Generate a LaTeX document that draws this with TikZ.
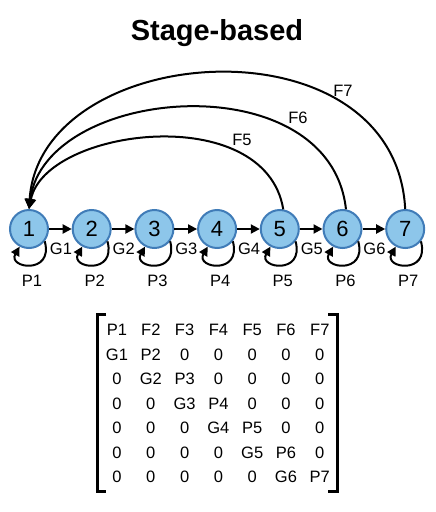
\documentclass[tikz,border=0pt]{standalone}
\usepackage{fontspec}
\setmainfont{Liberation Sans}
\usepackage{tikz,xcolor}
\usetikzlibrary{arrows.meta}

\definecolor{stagefill}{RGB}{141,198,234}
\definecolor{stageline}{RGB}{64,124,184}

\begin{document}
\begin{tikzpicture}[x=1pt,y=1pt,
  stage/.style={circle, draw=stageline, fill=stagefill, line width=2pt,
    minimum size=38pt, inner sep=0pt, font=\fontsize{22}{26}\selectfont},
  lbl/.style={font=\fontsize{16.5}{19}\selectfont, inner sep=0pt},
  link/.style={line width=2pt, -{Triangle[length=9pt,width=9pt]}},
  back/.style={line width=2pt, -{Triangle[length=10pt,width=10pt]}}]

\useasboundingbox (0,0) rectangle (436,-512);

\node[font=\bfseries\fontsize{29}{34}\selectfont] (title) at (217,-33) {Stage-based};

  % Draw the stages
  \foreach \i in {1,...,7} {
    \node[stage] (n\i) at ({29+62.7*(\i-1)},-229) {\i};
  }

  % Draw the growth arrows
  \foreach \i in {1,...,6} {
    \pgfmathtruncatemacro{\j}{\i+1}
    \draw[link] (n\i) -- (n\j);
    \node[lbl] (g\i) at ({61+62.7*(\i-1)},-249) {G\i};
  }

  % Draw the self loops
  \foreach \i in {1,...,7} {
    \draw[link] (n\i.-38) .. controls +(-75:35) and +(-120:25) .. (n\i.-118);
    \node[lbl] (p\i) at ({32+62.7*(\i-1)},-281) {P\i};
  }

  % Draw the fecundity arcs
  \draw[back] (n5.80) .. controls (265,-100) and (45,-128) .. (n1.north);
  \draw[back] (n6.80) .. controls (330,-62) and (45,-85) .. (n1.north);
  \draw[back] (n7.north) .. controls (395,-15) and (40,-40) .. (n1.north);
\node[lbl] (f5) at (242,-140) {F5};
\node[lbl] (f6) at (298,-118) {F6};
\node[lbl] (f7) at (343,-91) {F7};

  % Draw the matrix
  \foreach \row [count=\r] in {{P1,F2,F3,F4,F5,F6,F7},{G1,P2,0,0,0,0,0},
      {0,G2,P3,0,0,0,0},{0,0,G3,P4,0,0,0},{0,0,0,G4,P5,0,0},
      {0,0,0,0,G5,P6,0},{0,0,0,0,0,G6,P7}} {
    \foreach \ent [count=\c] in \row {
      \node[lbl] (m\r\c) at ({117+33.8*(\c-1)},{-330-24.5*(\r-1)}) {\ent};
    }
  }
\draw[line width=3pt, line join=miter] (106,-314) -- (97,-314) -- (97,-491) -- (106,-491);
\draw[line width=3pt, line join=miter] (328,-314) -- (337,-314) -- (337,-491) -- (328,-491);
\end{tikzpicture}
\end{document}
